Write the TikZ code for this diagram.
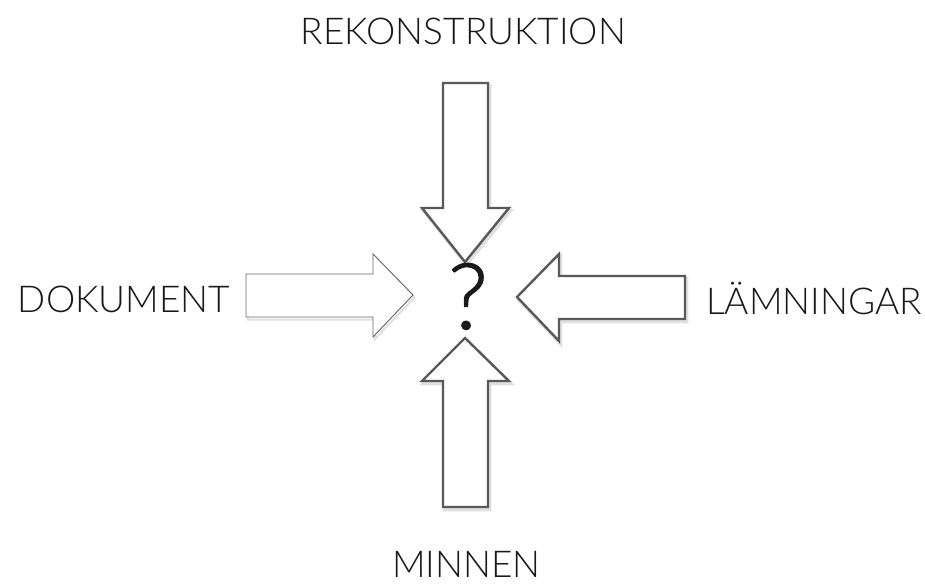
\documentclass[tikz,border=0pt]{standalone}
\usepackage{fontspec}
\setmainfont{Lato Light}
\newfontfamily\fragafont[FakeBold=1.2]{Lato Light}
\usepackage{tikz}
\tikzset{
  label/.style={anchor=base, inner sep=0pt, font=\fontsize{37}{40}\selectfont, text=black!90},
  block/.style={line width=2.4pt, draw=black!65, fill=white, line join=miter},
  thin block/.style={line width=0.9pt, draw=black!60, fill=white},
  shade/.style={line width=3.5pt, draw=black!12, shift={(1.5,2.5)}}
}

\begin{document}
\begin{tikzpicture}[x=1pt, y=-1pt]
		\useasboundingbox[fill=white] (0, 0) rectangle (925, 583);
		
		%%%%% ARROWS %%%%%
		% top
		\draw[shade] (443, 83) -- (488, 83) -- (488, 208) -- (509, 208) -- (465, 262) -- (422, 208) -- (443, 208) -- cycle;
		\draw[block] (443, 83) -- (488, 83) -- (488, 208) -- (509, 208) -- (465, 262) -- (422, 208) -- (443, 208) -- cycle;
		
		% bottom
		\draw[shade] (443, 507) -- (488, 507) -- (488, 381) -- (509, 381) -- (465, 338) -- (422, 381) -- (443, 381) -- cycle;
		\draw[block] (443, 507) -- (488, 507) -- (488, 381) -- (509, 381) -- (465, 338) -- (422, 381) -- (443, 381) -- cycle;
		
		% right
		\draw[shade] (685, 276) -- (559, 276) -- (559, 254) -- (517, 297) -- (559, 341) -- (559, 319) -- (685, 319) -- cycle;
		\draw[block] (685, 276) -- (559, 276) -- (559, 254) -- (517, 297) -- (559, 341) -- (559, 319) -- (685, 319) -- cycle;
		
		% left
		\draw[shade, line width=2pt] (246, 274) -- (373, 274) -- (373, 254) -- (413, 295) -- (373, 337) -- (373, 317) -- (246, 317) -- cycle;
		\draw[thin block] (246, 274) -- (373, 274) -- (373, 254) -- (413, 295) -- (373, 337) -- (373, 317) -- (246, 317) -- cycle;
		
		%%%%% LABELS %%%%%
		\node[label] (rekonstruktion) at (463.5, 45) {REKONSTRUKTION};
		\node[label] (dokument) at (124, 312) {DOKUMENT};
		\node[label] (lamningar) at (814, 314) {LÄMNINGAR};
		\node[label] (minnen) at (466.5, 577) {MINNEN};
		\node[label, font=\fragafont\fontsize{92}{94}\selectfont] (fraga) at (468, 329) {?};
		
	\end{tikzpicture}
\end{document}
